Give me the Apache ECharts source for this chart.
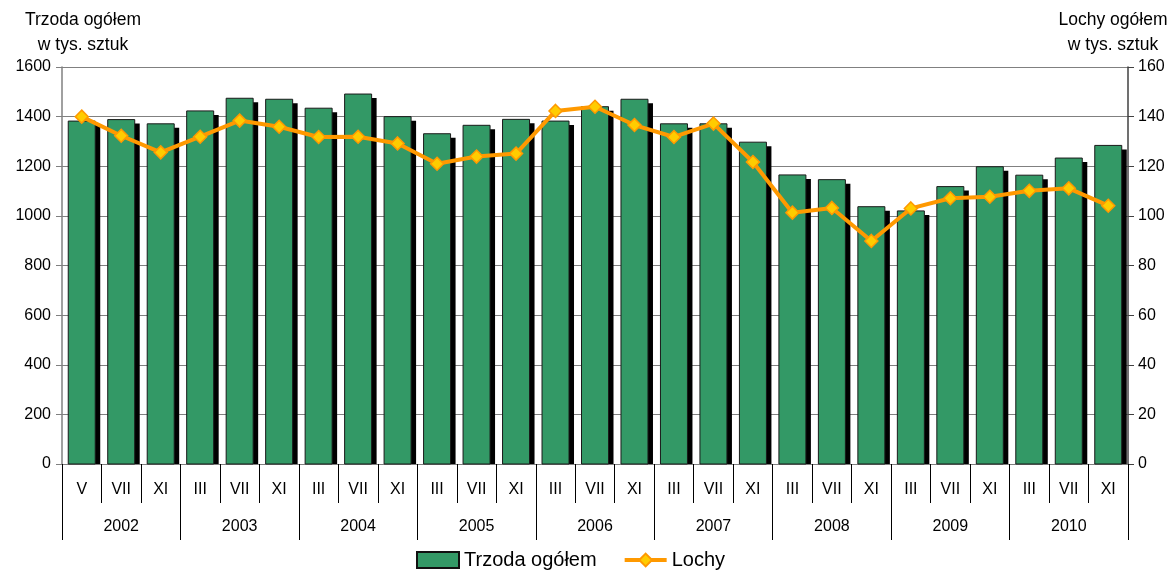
<!DOCTYPE html>
<html><head><meta charset="utf-8">
<script src="https://cdn.jsdelivr.net/npm/echarts@6/dist/echarts.min.js"></script>
<style>html,body{margin:0;padding:0;background:#fff}#c{width:1174px;height:574px}</style>
</head><body><div id="c"></div>
<script>
var months = ['V','VII','XI','III','VII','XI','III','VII','XI','III','VII','XI','III','VII','XI','III','VII','XI','III','VII','XI','III','VII','XI','III','VII','XI'];
var years = ['2002','2003','2004','2005','2006','2007','2008','2009','2010'];
var trzoda = [1382,1388,1371,1423,1474,1470,1434,1491,1400,1331,1365,1389,1382,1440,1470,1371,1371,1297,1165,1146,1037,1020,1118,1198,1164,1233,1284];
var lochy = [140.0,132.3,125.6,131.9,138.4,135.9,131.8,131.9,129.2,121.0,123.9,125.1,142.3,144.0,136.6,131.8,137.2,121.7,101.3,103.2,89.9,103.0,107.1,107.7,110.1,111.1,104.1];
var leftTicks = [0,1600,200];
var rightTicks = [0,160,20];

var font = 'Liberation Sans, Arial, sans-serif';
var BAR_W = 27, SH_X = 5, SH_Y = 4;
var chart = echarts.init(document.getElementById('c'));
chart.setOption({
  animation:false,
  textStyle:{fontFamily:font},
  grid:{left:62,right:46,top:67,bottom:110},
  graphic:[
    {type:'text',x:83,y:8,style:{text:'Trzoda ogółem\nw tys. sztuk',font:'17.5px '+font,fill:'#000',align:'center',lineHeight:25}},
    {type:'text',x:1113,y:8,style:{text:'Lochy ogółem\nw tys. sztuk',font:'17.5px '+font,fill:'#000',align:'center',lineHeight:25}}
  ],
  legend:{bottom:-1,left:411,itemWidth:42,itemHeight:16,itemGap:26,
    textStyle:{fontSize:20,color:'#000',fontFamily:font},
    data:[{name:'Trzoda ogółem',icon:'rect'},{name:'Lochy',lineStyle:{width:4,color:'#FF9900'}}]},
  xAxis:[
    {type:'category',data:months,position:'bottom',
     axisLine:{lineStyle:{color:'#808080',width:1}},
     axisTick:{show:true,interval:0,length:39,lineStyle:{color:'#000',width:1}},
     axisLabel:{interval:0,fontSize:16,color:'#000',margin:18}},
    {type:'category',data:years,position:'bottom',
     axisLine:{show:false},
     axisTick:{show:true,interval:0,length:76,lineStyle:{color:'#000',width:1}},
     axisLabel:{interval:0,fontSize:16,color:'#000',margin:55}}
  ],
  yAxis:[
    {type:'value',min:leftTicks[0],max:leftTicks[1],interval:leftTicks[2],position:'left',
     axisLine:{show:true,lineStyle:{color:'#808080',width:1.5}},
     axisTick:{show:true,length:6,lineStyle:{color:'#808080'}},
     axisLabel:{fontSize:16,color:'#000',margin:11,formatter:function(v){return String(v);}},
     splitLine:{show:true,lineStyle:{color:'#808080',width:1.2}}},
    {type:'value',min:rightTicks[0],max:rightTicks[1],interval:rightTicks[2],position:'right',
     axisLine:{show:true,lineStyle:{color:'#404040',width:1.5}},
     axisTick:{show:true,length:6,lineStyle:{color:'#404040'}},
     axisLabel:{fontSize:16,color:'#000',margin:10,formatter:function(v){return String(v);}},
     splitLine:{show:false}}
  ],
  series:[
    {name:'Trzoda ogółem',type:'custom',xAxisIndex:0,yAxisIndex:0,
     data:trzoda.map(function(v,i){return [i,v];}),
     encode:{x:0,y:1},
     itemStyle:{color:'#339966',borderColor:'#111',borderWidth:1},
     renderItem:function(params,api){
       var top = api.coord([api.value(0),api.value(1)]);
       var base = api.coord([api.value(0),0]);
       var h = base[1]-top[1];
       return {type:'group',children:[
         {type:'rect',shape:{x:top[0]-BAR_W/2+SH_X,y:top[1]+SH_Y,width:BAR_W,height:h-SH_Y},style:{fill:'#000'}},
         {type:'rect',shape:{x:top[0]-BAR_W/2,y:top[1],width:BAR_W,height:h},style:{fill:'#339966',stroke:'#1a1a1a',lineWidth:1}}
       ]};
     }},
    {name:'Lochy',type:'line',xAxisIndex:0,yAxisIndex:1,data:lochy,
     lineStyle:{color:'#FF9900',width:4},
     symbol:'diamond',symbolSize:13,
     itemStyle:{color:'#FFCC00',borderColor:'#FF9900',borderWidth:1.5},
     z:5}
  ]
});
</script></body></html>
